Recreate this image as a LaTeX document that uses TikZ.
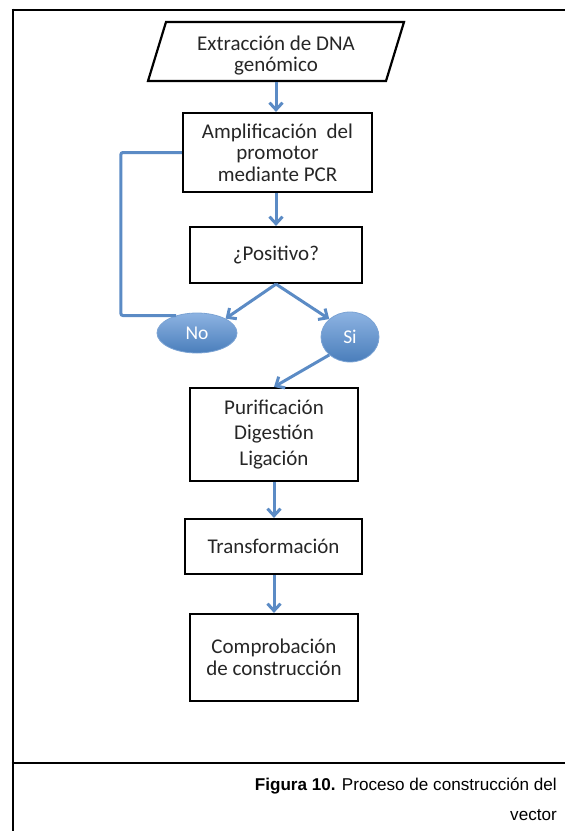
\documentclass[tikz,border=0pt]{standalone}
\usepackage{fontspec}
\setmainfont{Carlito}
\newfontfamily\capfont{Liberation Sans}
\usetikzlibrary{arrows.meta,shapes.geometric}
\definecolor{flowblue}{HTML}{5B8BC5}
\definecolor{ovtop}{HTML}{8DB3E2}
\definecolor{ovbot}{HTML}{4A7EBB}
\definecolor{ovedge}{HTML}{7BA3D4}
\definecolor{boxtext}{HTML}{262626}
\tikzset{
  boxnode/.style={draw=black, line width=2.2pt, align=center, inner sep=0pt,
    text=boxtext, font=\fontsize{21}{21.5}\selectfont},
  ovalnode/.style={ellipse, draw=ovedge, line width=0.8pt, top color=ovtop, bottom color=ovbot,
    text=white, inner sep=0pt, font=\fontsize{19.5}{21.5}\selectfont},
  flow/.style={draw=flowblue, line width=3pt, -{Straight Barb[length=7pt,width=13pt,line width=3pt]}},
  flowline/.style={draw=flowblue, line width=3pt},
  frameline/.style={line width=2.6pt, black},
  captext/.style={anchor=base east, inner sep=0pt, font=\capfont\fontsize{17.1}{20}\selectfont}
}
\begin{document}
\begin{tikzpicture}[x=1pt,y=-1pt]
\useasboundingbox (0,0) rectangle (565,831);
% frame
\draw[frameline] (13,8.7) -- (13,831);
\draw[frameline] (11.7,10) -- (54,10);
\draw[line width=1.3pt] (54,10) -- (533,10);
\draw[frameline] (533,10) -- (565,10);
\draw[frameline] (11.7,763) -- (565,763);

% parallelogram
\node[align=center, inner sep=0pt, minimum width=220pt, minimum height=59pt, text=boxtext,
  font=\fontsize{21}{21}\selectfont] (p) at (276,55.5) {Extracción de DNA\\genómico};
\draw[line width=2.2pt, line join=miter] (148,81) -- (166,22) -- (404,22) -- (386,81) -- cycle;

\node[boxnode, minimum width=189pt, minimum height=79pt] (b2) at (277.5,152.5)
  {Amplificación\ \ del\\promotor\\mediante PCR};
\node[boxnode, minimum width=172pt, minimum height=56pt] (b3) at (276,255) {¿Positivo?};
\node[ovalnode, minimum width=80pt, minimum height=40pt] (no) at (197,333) {No};
\node[ovalnode, minimum width=58pt, minimum height=50pt] (si) at (350,337) {Si};
\node[boxnode, minimum width=168pt, minimum height=93pt, font=\fontsize{21}{25.5}\selectfont] (b4) at (274,434.5)
  {Purificación\\Digestión\\Ligación};
\node[boxnode, minimum width=177pt, minimum height=55pt] (b5) at (273.5,546.5) {Transformación};
\node[boxnode, minimum width=168pt, minimum height=87pt] (b6) at (274,657.5)
  {Comprobación\\de construcción};

% connectors
\draw[flow] (276,82) -- (b2.north -| 276,0);
\draw[flow] (b2.south -| 276,0) -- (b3.north);
\draw[flow] (b3.south) -- (no.north east);
\draw[flow] (b3.south) -- (si.north west);
\draw[flow] (si.south west) -- (b4.north);
\draw[flow] (b4.south) -- (b5.north -| b4.south);
\draw[flow] (b5.south -| b4.south) -- (b6.north);
\draw[flowline, rounded corners=2pt] (b2.west) -- ++(-61,0) |- (no.140);

% caption
\node[captext] (cap1) at (557,790) {\textbf{Figura 10.} Proceso de construcción del};
\node[captext] (cap2) at (557,820) {vector};
\end{tikzpicture}
\end{document}
